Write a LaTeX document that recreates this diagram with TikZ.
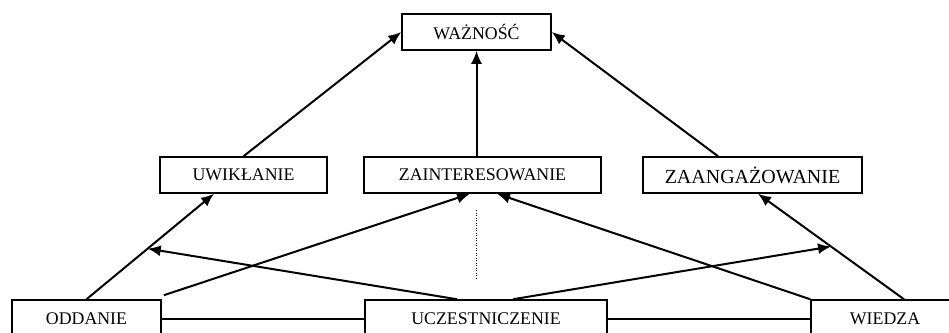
\documentclass[tikz,border=0pt]{standalone}
\usepackage{fontspec}
\setmainfont{Liberation Serif}
\usetikzlibrary{arrows.meta,calc}
\begin{document}
\begin{tikzpicture}[x=1pt,y=-1pt,
  box/.style={draw,line width=1.5pt,inner sep=0pt,minimum height=36pt,
              font=\fontsize{17.8}{20}\selectfont},
  bigbox/.style={box,font=\fontsize{20}{23}\selectfont},
  link/.style={line width=2pt,-{Latex[length=13pt,width=11pt]}},
  plain/.style={line width=2pt},
  guide/.style={line width=0.9pt,dash pattern=on 1pt off 1.5pt}]
\useasboundingbox (0,0) rectangle (949,332);
\clip (0,0) rectangle (949,332);

% top level
\node[box,minimum width=149pt] (waz) at (476.5,32) {WAŻNOŚĆ};

% middle level
\node[box,minimum width=167pt] (uwik) at (243.5,175) {UWIKŁANIE};
\node[box,minimum width=237pt] (zain) at (482.5,175) {ZAINTERESOWANIE};
\node[bigbox,minimum width=219pt] (zaang) at (752.5,175) {ZAANGAŻOWANIE};

% bottom level (boxes run past the lower edge)
\node[box,minimum width=149pt,minimum height=38pt] (odd) at (86.5,319) {ODDANIE};
\node[box,minimum width=242pt,minimum height=38pt] (ucz) at (486,319) {UCZESTNICZENIE};
\node[box,minimum width=148pt,minimum height=38pt] (wied) at (885,319) {WIEDZA};

% middle to top
\draw[link] (uwik.north) -- (waz.west);
\draw[link] ([xshift=-6pt]zain.north) -- (waz.south);
\draw[link] ([xshift=-34.5pt]zaang.north) -- (waz.east);

% bottom to middle
\draw[link] (odd.north) -- ([xshift=-29.5pt]uwik.south);
\draw[link] ([xshift=2pt,yshift=4pt]odd.north east) -- ([xshift=-12.5pt]zain.south);
\draw[link] (wied.north west) -- ([xshift=14.5pt]zain.south);
\draw[link] ([xshift=19pt]wied.north) -- ([xshift=5.5pt]zaang.south);

% arrows from the centre box meeting the outer links
\coordinate (m1) at ($(odd.north)!0.48!([xshift=-29.5pt]uwik.south)$);
\coordinate (m2) at ($([xshift=19pt]wied.north)!0.5!([xshift=5.5pt]zaang.south)$);
\draw[link] ([xshift=-29pt]ucz.north) -- (m1);
\draw[link] ([xshift=27pt]ucz.north) -- (m2);

% horizontal ties
\draw[plain] (odd.east) -- (ucz.west);
\draw[plain] (ucz.east) -- (wied.west);

% dotted guide
\coordinate (g1) at (476,210);
\coordinate (g2) at (476,280);
\draw[guide] (g1) -- (g2);
\end{tikzpicture}
\end{document}
